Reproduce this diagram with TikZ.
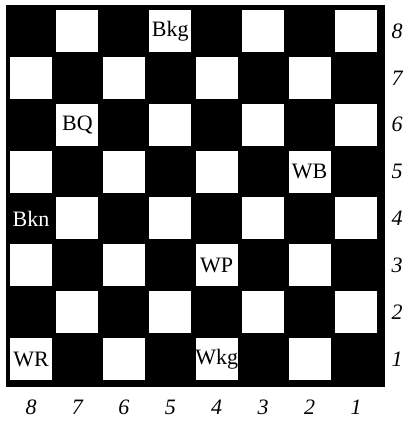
\documentclass[tikz,border=0pt]{standalone}
\usepackage{fontspec}
\setmainfont{Liberation Serif}
\usepackage{tikz}
\usetikzlibrary{positioning}
\tikzset{
	piece/.style={font=\fontsize{22}{22}\selectfont, inner sep=0pt},
	coord/.style={font=\fontsize{22}{22}\selectfont\itshape, inner sep=0pt}
}

\begin{document}
\begin{tikzpicture}[x=1pt,y=-1pt]
	\useasboundingbox (0,0) rectangle (409,421);
	% board
	\fill[black] (6,5) rectangle (385,387);
	% light squares
	\foreach \r in {0,...,7}
		\foreach \c in {0,...,7}{
			\pgfmathtruncatemacro{\odd}{mod(\r+\c,2)}
			\ifnum\odd=1
				\fill[white] ({10+46.43*\c},{10+46.86*\r}) rectangle ++(42,42);
			\fi
		}
	% pieces
	\node[piece] (bkg) at (170.3,31) {Bkg};
	\node[piece] (bq) at (77.4,124.7) {BQ};
	\node[piece,white] (bkn) at (31,218.4) {Bkn};
	\node[piece] (wb) at (309.6,171.6) {WB};
	\node[piece] (wp) at (216.7,265.3) {WP};
	\node[piece] (wr) at (31,359) {WR};
	\node[piece] (wkg) at (216.7,359) {Wkg};
	% ranks and files
	\foreach \n [count=\i from 0] in {8,7,6,5,4,3,2,1}{
		\node[coord] (rank\n) at (397,{31+46.86*\i}) {\n};
		\node[coord] (file\n) at ({31+46.43*\i},407) {\n};
	}
\end{tikzpicture}
\end{document}
